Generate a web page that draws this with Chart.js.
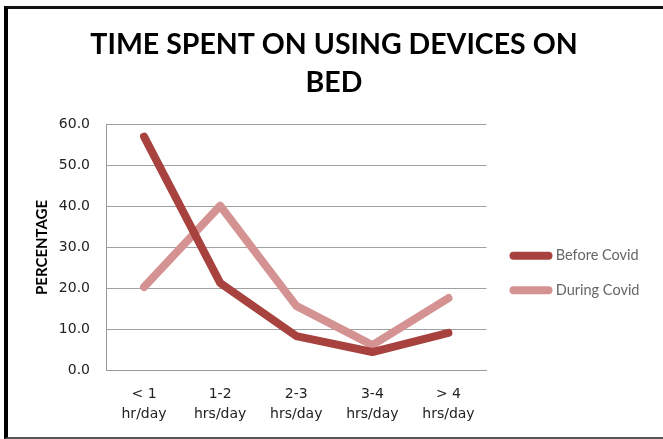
<!DOCTYPE html>
<html>
<head>
<meta charset="utf-8">
<script src="https://cdn.jsdelivr.net/npm/chart.js@4.4.1/dist/chart.umd.min.js"></script>
<style>
  html, body { margin: 0; padding: 0; background: #fff; width: 663px; height: 439px; overflow: hidden; }
  #wrap { position: absolute; left: 0; top: 0; width: 663px; height: 439px; }
  #frame { position: absolute; left: 4px; top: 6px; width: 680px; height: 428px;
           border-left: 4px solid #000; border-top: 3px solid #111; border-bottom: 2px solid #555; pointer-events: none; }
</style>
</head>
<body>
<div id="wrap"><canvas id="c" width="663" height="439"></canvas></div>
<div id="frame"></div>
<script>
const categories = [["< 1", "hr/day"], ["1-2", "hrs/day"], ["2-3", "hrs/day"], ["3-4", "hrs/day"], ["> 4", "hrs/day"]];
const beforeCovid = [57.1, 21.3, 8.3, 4.4, 9.1];
const duringCovid = [20.3, 40.2, 15.7, 6.1, 17.6];
const yTicks = [0, 10, 20, 30, 40, 50, 60];

const legendNudge = {
  id: 'legendNudge',
  afterLayout(chart) {
    if (chart.legend) { chart.legend.left += 7; chart.legend.right += 7; }
  }
};

new Chart(document.getElementById('c'), {
  type: 'line',
  plugins: [legendNudge],
  data: {
    labels: categories,
    datasets: [
      { label: 'Before Covid', data: beforeCovid, borderColor: '#A8423F', backgroundColor: '#A8423F',
        borderWidth: 8, pointRadius: 0, tension: 0, borderCapStyle: 'round', borderJoinStyle: 'round' },
      { label: 'During Covid', data: duringCovid, borderColor: '#D49292', backgroundColor: '#D49292',
        borderWidth: 8, pointRadius: 0, tension: 0, borderCapStyle: 'round', borderJoinStyle: 'round' }
    ]
  },
  options: {
    responsive: false,
    animation: false,
    layout: { padding: { left: 29, right: 24, top: 16, bottom: 18 } },
    plugins: {
      title: {
        display: true,
        text: ['TIME SPENT ON USING DEVICES ON', 'BED'],
        font: { family: 'Lato', size: 28.5, weight: 'bold', lineHeight: 1.33 },
        color: '#000',
        padding: { top: 10, bottom: 23 }
      },
      legend: {
        position: 'right',
        align: 'center',
        title: { display: true, text: ' ', font: { size: 1, lineHeight: 1 }, padding: { top: 0, bottom: 108 } },
        labels: {
          usePointStyle: true,
          pointStyle: 'line',
          pointStyleWidth: 35,
          boxHeight: 8,
          font: { family: 'Lato', size: 14.5 },
          color: '#000',
          padding: 20,
          generateLabels: (chart) => chart.data.datasets.map((d, i) => ({
            text: d.label, fillStyle: d.borderColor, strokeStyle: d.borderColor, lineWidth: 8,
            lineCap: 'round', pointStyle: 'line', datasetIndex: i
          }))
        }
      },
      tooltip: { enabled: false }
    },
    scales: {
      x: {
        offset: true,
        grid: { display: false, drawTicks: false },
        border: { display: true, color: '#999', width: 1 },
        ticks: { font: { family: 'DejaVu Sans', size: 14, lineHeight: 1.4 }, color: '#222', padding: 15, maxRotation: 0 },
        afterFit: (axis) => { axis.height = 51; }
      },
      y: {
        min: 0, max: 60,
        afterBuildTicks: (axis) => { axis.ticks = yTicks.map(v => ({ value: v })); },
        grid: { color: '#A0A0A0', lineWidth: 1, drawTicks: false },
        border: { display: true, color: '#999', width: 1 },
        ticks: { font: { family: 'DejaVu Sans', size: 14 }, color: '#222', padding: 16,
                 callback: (v) => Number(v).toFixed(1) },
        title: { display: true, text: 'PERCENTAGE', font: { family: 'Lato', size: 15, weight: 'bold' }, color: '#000', padding: 4 },
        afterFit: (axis) => { axis.width = 77; }
      }
    }
  }
});
</script>
</body>
</html>
